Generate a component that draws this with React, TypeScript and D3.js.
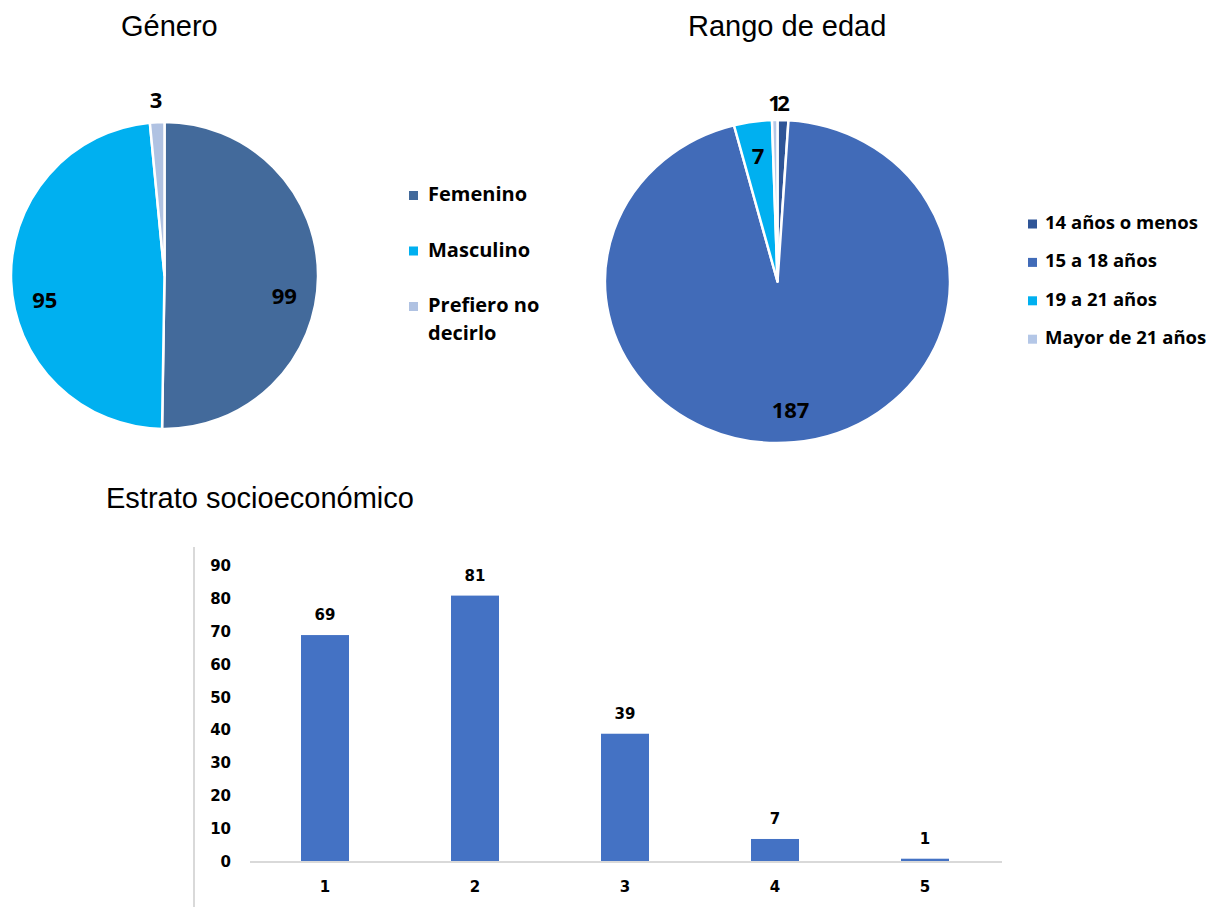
import React from "react";
import * as d3 from "d3";

const generoLabels = ["Femenino", "Masculino", "Prefiero no decirlo"];
const generoValues = [99, 95, 3];
const generoColors = ["#436A9B", "#00B0F0", "#B0C2E2"];

const edadLabels = ["14 años o menos", "15 a 18 años", "19 a 21 años", "Mayor de 21 años"];
const edadValues = [2, 187, 7, 1];
const edadColors = ["#2F5597", "#416BB8", "#00B0F0", "#B4C7E7"];

const estratoCategories = ["1", "2", "3", "4", "5"];
const estratoValues = [69, 81, 39, 7, 1];
const estratoTicks = [0, 10, 20, 30, 40, 50, 60, 70, 80, 90];

const W = 1223;
const H = 907;
const LABEL_FONT = "'Open Sans', 'Noto Sans', sans-serif";
const TITLE_FONT = "'Liberation Sans', Arial, sans-serif";
const AXIS_FONT = "'DejaVu Sans', sans-serif";

type PieProps = {
  values: number[];
  colors: string[];
  cx: number;
  cy: number;
  rx: number;
  ry: number;
  insideFactor: number;
  outsideFactor: number;
  insideDy: number;
  smallThreshold: number;
  fontSize: number;
};

function Pie({ values, colors, cx, cy, rx, ry, insideFactor, outsideFactor, insideDy, smallThreshold, fontSize }: PieProps) {
  const pie = d3.pie<number>().sort(null).value((d) => d)(values);
  const arc = d3.arc<d3.PieArcDatum<number>>().innerRadius(0).outerRadius(ry);
  const total = d3.sum(values);
  return (
    <g>
      <g transform={`translate(${cx},${cy}) scale(${rx / ry},1)`}>
        {pie.map((p, i) => (
          <path key={i} d={arc(p) || ""} fill={colors[i]} stroke="#fff" strokeWidth={2.5} strokeLinejoin="round" vectorEffect="non-scaling-stroke" />
        ))}
      </g>
      {pie.map((p, i) => {
        const mid = (p.startAngle + p.endAngle) / 2;
        const small = p.value / total < smallThreshold;
        const f = small ? outsideFactor : insideFactor;
        const x = cx + Math.sin(mid) * rx * f;
        const y = cy - Math.cos(mid) * ry * f + (small ? 0 : insideDy);
        return (
          <text key={i} x={x} y={y} textAnchor="middle" dominantBaseline="central" fontFamily={LABEL_FONT} fontWeight={700} fontSize={fontSize} fill="#000">
            {p.value}
          </text>
        );
      })}
    </g>
  );
}

export default function App() {
  const x = d3.scaleBand<string>().domain(estratoCategories).range([250, 1000]).paddingInner(0.68).paddingOuter(0.34);
  const y = d3.scaleLinear().domain([0, 90]).range([862, 566]);

  return (
    <svg width={W} height={H} style={{ position: "absolute", left: 0, top: 0, background: "#fff" }}>
      <rect x={0} y={0} width={W} height={H} fill="#fff" />
      {/* Titles */}
      <text x={121} y={36} fontFamily={TITLE_FONT} fontSize={29} fill="#000">Género</text>
      <text x={688} y={36} fontFamily={TITLE_FONT} fontSize={29} fill="#000">Rango de edad</text>
      <text x={106} y={508} fontFamily={TITLE_FONT} fontSize={29} fill="#000">Estrato socioeconómico</text>

      {/* Pie: Género */}
      <Pie values={generoValues} colors={generoColors} cx={164.5} cy={275.5} rx={153.5} ry={153.5}
        insideFactor={0.78} outsideFactor={1.15} insideDy={19} smallThreshold={0.03} fontSize={22} />
      {/* Legend: Género */}
      <g fontFamily={LABEL_FONT} fontWeight={700} fontSize={20} fill="#000">
        {generoLabels.map((l, i) => {
          const ly = 201 + i * 55.5;
          const lines = i === 2 ? ["Prefiero no", "decirlo"] : [l];
          return (
            <g key={l}>
              <rect x={409} y={ly - 10} width={9} height={9} fill={generoColors[i]} />
              {lines.map((t, j) => (
                <text key={j} x={428} y={ly + j * 28}>{t}</text>
              ))}
            </g>
          );
        })}
      </g>

      {/* Pie: Rango de edad */}
      <Pie values={edadValues} colors={edadColors} cx={777.5} cy={281.5} rx={172.5} ry={161.5}
        insideFactor={0.79} outsideFactor={1.11} insideDy={0} smallThreshold={0.02} fontSize={22} />
      {/* Legend: Rango de edad */}
      <g fontFamily={LABEL_FONT} fontWeight={700} fontSize={18.5} fill="#000">
        {edadLabels.map((l, i) => {
          const ly = 229 + i * 38.4;
          return (
            <g key={l}>
              <rect x={1028} y={ly - 9.5} width={9} height={9} fill={edadColors[i]} />
              <text x={1045} y={ly}>{l}</text>
            </g>
          );
        })}
      </g>

      {/* Bar chart: Estrato */}
      <line x1={194} x2={194} y1={547} y2={H} stroke="#D9D9D9" strokeWidth={2} />
      <line x1={250} x2={1002} y1={y(0)} y2={y(0)} stroke="#D9D9D9" strokeWidth={2} />
      {estratoTicks.map((t) => (
        <text key={t} x={231} y={y(t)} textAnchor="end" dominantBaseline="central" fontFamily={AXIS_FONT} fontWeight={700} fontSize={15} fill="#000">
          {t}
        </text>
      ))}
      {estratoCategories.map((c, i) => {
        const v = estratoValues[i];
        const bx = x(c) as number;
        const bw = x.bandwidth();
        return (
          <g key={c}>
            <rect x={bx} y={y(v)} width={bw} height={y(0) - y(v) - 1} fill="#4472C4" />
            <text x={bx + bw / 2} y={y(v) - 20} textAnchor="middle" dominantBaseline="central" fontFamily={AXIS_FONT} fontWeight={700} fontSize={15} fill="#000">
              {v}
            </text>
            <text x={bx + bw / 2} y={887} textAnchor="middle" dominantBaseline="central" fontFamily={AXIS_FONT} fontWeight={700} fontSize={15} fill="#000">
              {c}
            </text>
          </g>
        );
      })}
    </svg>
  );
}
